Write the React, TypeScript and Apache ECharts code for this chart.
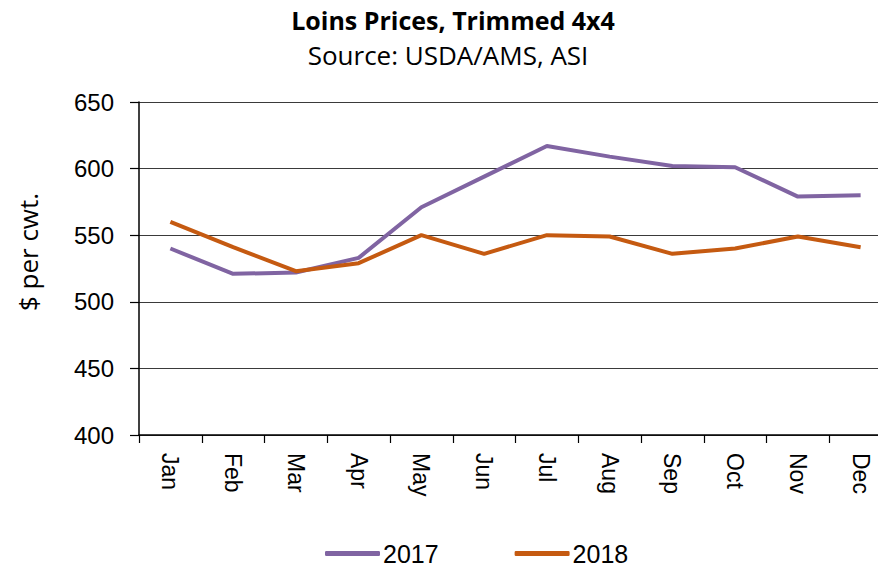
import React, { useEffect, useRef } from "react";
import * as echarts from "echarts";

const months = ["Jan", "Feb", "Mar", "Apr", "May", "Jun", "Jul", "Aug", "Sep", "Oct", "Nov", "Dec"];
const values2017 = [540, 521, 522, 533, 571, 594, 617, 609, 602, 601, 579, 580];
const values2018 = [560, 541, 523, 529, 550, 536, 550, 549, 536, 540, 549, 541];
const yTicks = { min: 400, max: 650, interval: 50 };

export default function App() {
  const ref = useRef<HTMLDivElement>(null);
  useEffect(() => {
    const chart = echarts.init(ref.current!, undefined, { renderer: "svg" });
    const sans = "'Liberation Sans', Arial, sans-serif";
    const calibri = "'Open Sans', Lato, sans-serif";
    chart.setOption({
      animation: false,
      backgroundColor: "#ffffff",
      title: [
        {
          text: "Loins Prices, Trimmed 4x4",
          left: 453,
          top: 7,
          padding: 0,
          textAlign: "center",
          textStyle: { fontFamily: calibri, fontWeight: "bold", fontSize: 25, lineHeight: 25, color: "#000" },
        },
        {
          text: "Source: USDA/AMS, ASI",
          left: 448,
          top: 42,
          padding: 0,
          textAlign: "center",
          textStyle: { fontFamily: calibri, fontWeight: "normal", fontSize: 26, lineHeight: 25, color: "#000" },
        },
      ],
      graphic: [
        {
          type: "text",
          x: 28,
          y: 252,
          rotation: Math.PI / 2,
          style: {
            text: "$ per cwt.",
            fontFamily: calibri,
            fontSize: 26,
            fill: "#000",
            textAlign: "center",
            textVerticalAlign: "middle",
          },
        },
      ],
      legend: {
        bottom: 3,
        left: 325,
        padding: 0,
        itemGap: 76,
        itemWidth: 55,
        itemHeight: 5,
        icon: "roundRect",
        textStyle: { fontFamily: sans, fontSize: 25, color: "#000", padding: [0, 0, 0, -2] },
        data: ["2017", "2018"],
      },
      grid: { left: 139, top: 102, width: 753, height: 333, containLabel: false },
      xAxis: {
        type: "category",
        data: months,
        boundaryGap: true,
        axisLine: { lineStyle: { color: "#000", width: 1.5 } },
        axisTick: { show: true, length: 8, lineStyle: { color: "#000", width: 1.2 }, alignWithLabel: false },
        axisLabel: { rotate: -90, margin: 18, fontFamily: sans, fontSize: 23, color: "#000" },
        splitLine: { show: false },
      },
      yAxis: {
        type: "value",
        min: yTicks.min,
        max: yTicks.max,
        interval: yTicks.interval,
        axisLine: { show: true, lineStyle: { color: "#000", width: 1.5 } },
        axisTick: { show: true, length: 9, lineStyle: { color: "#000", width: 1.2 } },
        axisLabel: { margin: 25, fontFamily: sans, fontSize: 24, color: "#000" },
        splitLine: { show: true, lineStyle: { color: "#3a3a3a", width: 1.2 } },
      },
      series: [
        {
          name: "2017",
          type: "line",
          data: values2017,
          symbol: "none",
          lineStyle: { color: "#8064A2", width: 4 },
          itemStyle: { color: "#8064A2" },
        },
        {
          name: "2018",
          type: "line",
          data: values2018,
          symbol: "none",
          lineStyle: { color: "#C55A11", width: 4 },
          itemStyle: { color: "#C55A11" },
        },
      ],
    });
    return () => chart.dispose();
  }, []);
  return (
    <div style={{ position: "fixed", left: 0, top: 0, width: 878, height: 569, overflow: "hidden", background: "#fff" }}>
      <div ref={ref} style={{ width: 900, height: 569 }} />
    </div>
  );
}
